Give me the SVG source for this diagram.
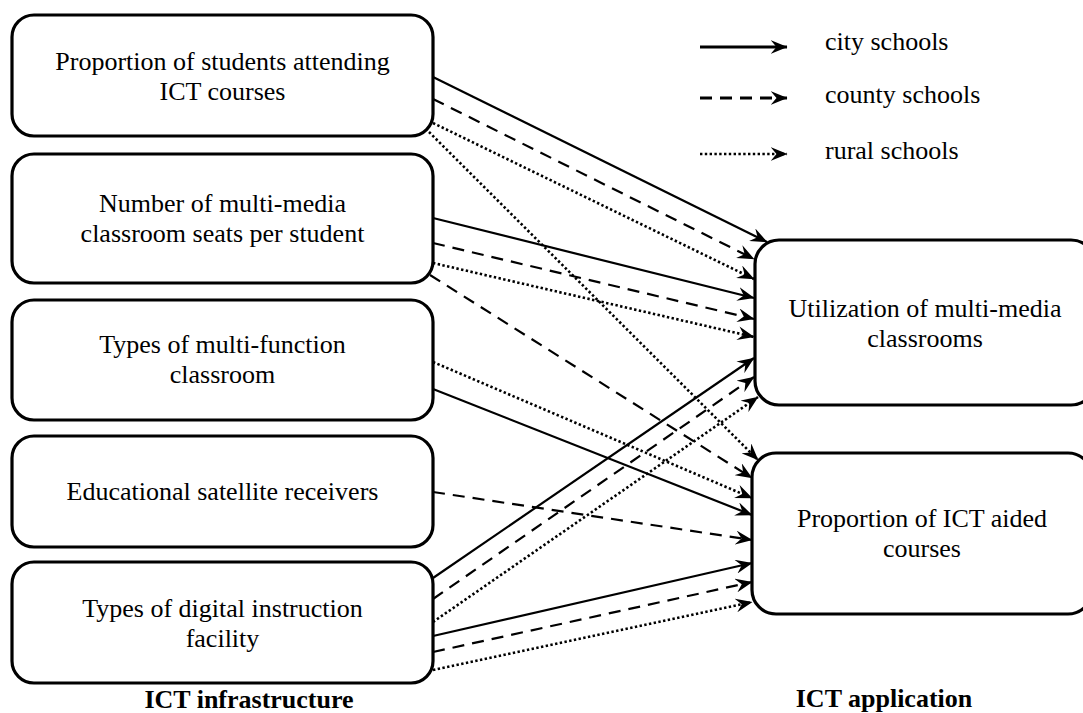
<svg xmlns="http://www.w3.org/2000/svg" width="1083" height="713" viewBox="0 0 1083 713">
<style>
.box{fill:#fff;stroke:#000;stroke-width:3.2}
text{font-family:'Liberation Serif','Times New Roman',serif;font-size:26px;fill:#000}
.t{text-anchor:middle}
.b{font-weight:bold}
.c{fill:none;stroke:#000;stroke-width:2.2;marker-end:url(#ah)}
.dash{stroke-dasharray:12 8}
.dot{stroke-width:2.6;stroke-dasharray:2.4 2.4}
.lg{stroke-width:3}
</style>
<defs>
<marker id="ah" markerUnits="userSpaceOnUse" viewBox="0 0 17 14" refX="16.5" refY="7" markerWidth="17" markerHeight="14" orient="auto">
<path d="M0,0 L17,7 L0,14 L6,7 Z" fill="#000"/>
</marker>
</defs>
<rect width="1083" height="713" fill="#fff"/>
<g id="connectors">
<line class="c" x1="433" y1="77" x2="767" y2="242"/>
<line class="c dash" x1="433" y1="99" x2="754" y2="259"/>
<line class="c dot" x1="433" y1="123" x2="754" y2="279"/>
<line class="c dot" x1="429" y1="132" x2="758" y2="460"/>
<line class="c" x1="433" y1="218" x2="754" y2="298"/>
<line class="c dash" x1="433" y1="243" x2="754" y2="319"/>
<line class="c dot" x1="433" y1="263" x2="754" y2="337"/>
<line class="c dash" x1="430" y1="275" x2="752" y2="478"/>
<line class="c dot" x1="433" y1="362" x2="752" y2="498"/>
<line class="c" x1="433" y1="389" x2="752" y2="515"/>
<line class="c dash" x1="433" y1="492" x2="752" y2="540"/>
<line class="c" x1="433" y1="578" x2="754" y2="358"/>
<line class="c dash" x1="433" y1="599" x2="754" y2="377"/>
<line class="c dot" x1="433" y1="622" x2="758" y2="397"/>
<line class="c" x1="433" y1="636" x2="752" y2="563"/>
<line class="c dash" x1="433" y1="652" x2="752" y2="582"/>
<line class="c dot" x1="433" y1="670" x2="752" y2="602"/>
</g>
<g id="n1"><rect class="box" x="12" y="15" width="421" height="121" rx="22"/><text class="t" x="222.5" y="70">Proportion of students attending</text><text class="t" x="222.5" y="100">ICT courses</text></g>
<g id="n2"><rect class="box" x="12" y="154" width="421" height="129" rx="22"/><text class="t" x="222.5" y="212">Number of multi-media</text><text class="t" x="222.5" y="242">classroom seats per student</text></g>
<g id="n3"><rect class="box" x="12" y="300" width="421" height="120" rx="22"/><text class="t" x="222.5" y="353">Types of multi-function</text><text class="t" x="222.5" y="383">classroom</text></g>
<g id="n4"><rect class="box" x="12" y="436" width="421" height="111" rx="22"/><text class="t" x="222.5" y="500">Educational satellite receivers</text></g>
<g id="n5"><rect class="box" x="12" y="562" width="421" height="121" rx="22"/><text class="t" x="222.5" y="617">Types of digital instruction</text><text class="t" x="222.5" y="647">facility</text></g>
<g id="nA"><rect class="box" x="755" y="240" width="340" height="165" rx="24"/><text class="t" x="925" y="317">Utilization of multi-media</text><text class="t" x="925" y="347">classrooms</text></g>
<g id="nB"><rect class="box" x="752" y="453" width="340" height="161" rx="24"/><text class="t" x="922" y="527">Proportion of ICT aided</text><text class="t" x="922" y="557">courses</text></g>
<g id="legend">
<line class="c lg" x1="700" y1="47" x2="787" y2="47"/>
<line class="c dash lg" x1="700" y1="98" x2="787" y2="98"/>
<line class="c dot" x1="700" y1="154" x2="787" y2="154"/>
<text x="825" y="50">city schools</text>
<text x="825" y="103">county schools</text>
<text x="825" y="159">rural schools</text>
</g>
<g id="labels">
<text class="t b" x="249" y="708">ICT infrastructure</text>
<text class="t b" x="884" y="707">ICT application</text>
</g>
</svg>
